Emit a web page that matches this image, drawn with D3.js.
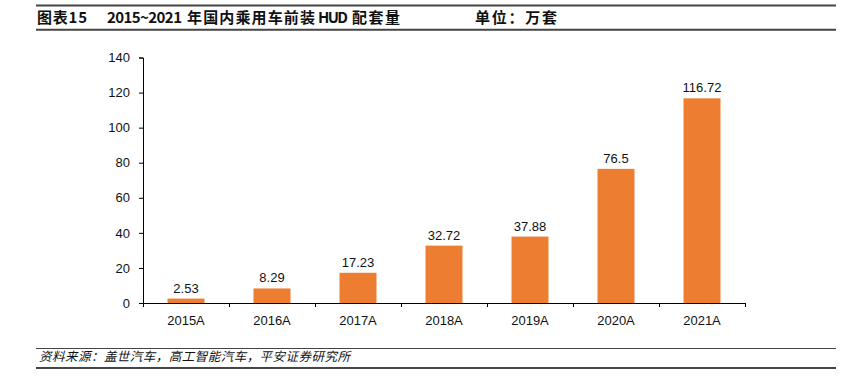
<!DOCTYPE html>
<html>
<head>
<meta charset="utf-8">
<script src="https://cdn.jsdelivr.net/npm/d3@7"></script>
<style>
  body { margin: 0; background: #fff; }
  svg { display: block; font-family: "Liberation Sans", Arial, sans-serif; }
</style>
</head>
<body>
<svg id="chart" width="845" height="388"></svg>
<script>
    var categories = ['2015A', '2016A', '2017A', '2018A', '2019A', '2020A', '2021A'];
    var values = [2.53, 8.29, 17.23, 32.72, 37.88, 76.5, 116.72];
    var yTicks = [0, 20, 40, 60, 80, 100, 120, 140];

    var svg = d3.select('#chart');
    var cjk = '"Noto Sans CJK SC", "Liberation Sans", sans-serif';

    // header rules
    svg.append('line').attr('x1', 36).attr('x2', 836).attr('y1', 5.5).attr('y2', 5.5)
        .attr('stroke', '#444').attr('stroke-width', 2.2);
    svg.append('line').attr('x1', 36).attr('x2', 836).attr('y1', 29.8).attr('y2', 29.8)
        .attr('stroke', '#444').attr('stroke-width', 2);

    // title pieces: [text, x, width]
    var titleParts = [
        ['图表15', 37, 50],
        ['2015~2021', 107, 75],
        ['年国内乘用车前装', 187, 128],
        ['HUD', 318, 30],
        ['配套量', 352, 48],
        ['单位：万套', 475, 82]
    ];
    svg.selectAll('text.title').data(titleParts).enter().append('text')
        .attr('class', 'title')
        .attr('x', function (d) { return d[1]; })
        .attr('y', 23)
        .attr('textLength', function (d) { return d[2]; })
        .attr('lengthAdjust', 'spacing')
        .style('font-family', cjk).style('font-size', '15px').style('font-weight', 'bold')
        .attr('fill', '#111')
        .text(function (d) { return d[0]; });

    // scales
    var x = d3.scaleBand().domain(categories).range([143, 745]).paddingInner(0.57).paddingOuter(0.285);
    var y = d3.scaleLinear().domain([0, 140]).range([303, 57.5]);

    // bars
    svg.selectAll('rect.bar').data(values).enter().append('rect')
        .attr('class', 'bar')
        .attr('x', function (d, i) { return x(categories[i]); })
        .attr('width', x.bandwidth())
        .attr('y', function (d) { return y(d); })
        .attr('height', function (d) { return y(0) - y(d); })
        .attr('fill', '#ED7D31');

    // value labels
    svg.selectAll('text.val').data(values).enter().append('text')
        .attr('class', 'val')
        .attr('x', function (d, i) { return x(categories[i]) + x.bandwidth() / 2; })
        .attr('y', function (d) { return y(d) - 6; })
        .attr('text-anchor', 'middle')
        .style('font-size', '13px').attr('fill', '#111')
        .text(function (d) { return d; });

    // y axis
    var yAxis = svg.append('g').attr('transform', 'translate(143,0)')
        .call(d3.axisLeft(y).tickValues(yTicks).tickSize(4).tickPadding(9));
    yAxis.select('.domain').attr('stroke', '#000');
    yAxis.selectAll('.tick line').attr('stroke', '#000');
    yAxis.selectAll('text').style('font-size', '13px').style('font-family', '"Liberation Sans", Arial, sans-serif').attr('fill', '#111');

    // x axis: ticks at band boundaries
    var step = x.step();
    var bounds = d3.range(categories.length + 1).map(function (i) { return 143 + i * step; });
    var xAxis = svg.append('g');
    xAxis.append('line').attr('x1', 143).attr('x2', 745).attr('y1', 303.5).attr('y2', 303.5)
        .attr('stroke', '#000');
    xAxis.selectAll('line.tk').data(bounds).enter().append('line')
        .attr('class', 'tk')
        .attr('x1', function (d) { return d + 0.5; }).attr('x2', function (d) { return d + 0.5; })
        .attr('y1', 303).attr('y2', 307).attr('stroke', '#000');
    xAxis.selectAll('text').data(categories).enter().append('text')
        .attr('x', function (d) { return x(d) + x.bandwidth() / 2; })
        .attr('y', 325)
        .attr('text-anchor', 'middle')
        .style('font-size', '13px').attr('fill', '#111')
        .text(function (d) { return d; });

    // footer
    svg.append('line').attr('x1', 36).attr('x2', 836).attr('y1', 348.5).attr('y2', 348.5)
        .attr('stroke', '#444').attr('stroke-width', 1.2);
    svg.append('line').attr('x1', 36).attr('x2', 836).attr('y1', 368).attr('y2', 368)
        .attr('stroke', '#444').attr('stroke-width', 2);
    svg.append('text').attr('x', 39).attr('y', 361)
        .attr('textLength', 311).attr('lengthAdjust', 'spacing')
        .style('font-family', cjk).style('font-size', '12.5px').style('font-style', 'italic')
        .attr('fill', '#111')
        .text('资料来源：盖世汽车，高工智能汽车，平安证券研究所');
</script>
</body>
</html>
